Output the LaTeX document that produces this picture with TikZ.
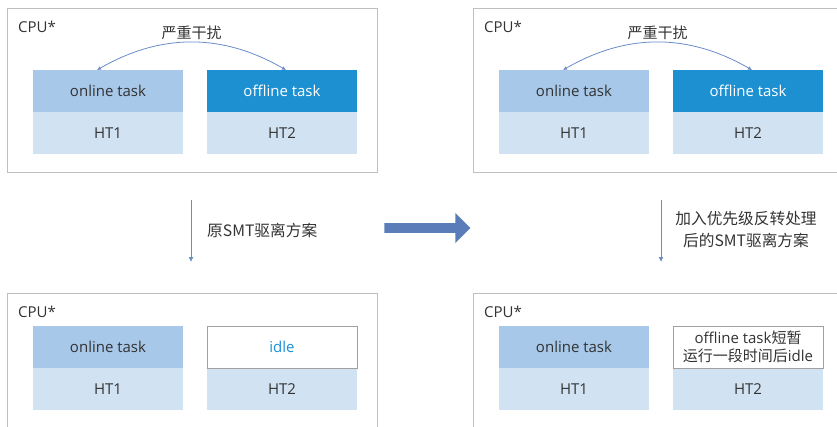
\documentclass[tikz,border=0pt]{standalone}
\usepackage{fontspec}
\setmainfont{Open Sans}
\newfontfamily\cjk{Noto Sans CJK SC}
\usetikzlibrary{positioning,arrows.meta,shapes.arrows}
\definecolor{onlineblue}{HTML}{A7C8E9}
\definecolor{htblue}{HTML}{D1E2F3}
\definecolor{offlineblue}{HTML}{1D90D2}
\definecolor{framegray}{HTML}{BFBFBF}
\definecolor{notegray}{HTML}{A0A0A0}
\definecolor{linkblue}{HTML}{6A8CC7}
\definecolor{bigblue}{HTML}{5A7DB9}
\definecolor{txtgray}{HTML}{333333}
\newcommand*{\boxw}{150pt}
\newcommand*{\boxh}{42pt}
\newcommand*{\txtsize}{\fontsize{15}{18}\selectfont}
\tikzset{
	panel/.style={
		draw=framegray,
		line width=1pt,
		minimum width=370pt,
		minimum height=164pt,
		inner sep=0pt,
		anchor=north west
	},
	cpulabel/.style={
		anchor=west,
		inner sep=0pt,
		text=txtgray,
		font=\txtsize
	},
	taskbox/.style n args={2}{
		fill=#1,
		text=#2,
		minimum width=\boxw,
		minimum height=\boxh,
		inner sep=0pt,
		outer sep=0pt,
		font=\txtsize
	},
	notebox/.style={
		draw=notegray,
		line width=0.8pt,
		fill=white,
		text=txtgray,
		minimum width=\boxw,
		minimum height=\boxh,
		inner sep=0pt,
		outer sep=0pt,
		align=center,
		font=\txtsize
	},
	linkarc/.style={
		draw=linkblue,
		line width=0.8pt,
		arrows={Latex[length=4pt,width=4pt]-Latex[length=4pt,width=4pt]}
	},
	droparrow/.style={
		draw=linkblue,
		line width=0.8pt,
		arrows={-Latex[length=5pt,width=5pt]}
	},
	midtext/.style={
		text=txtgray,
		inner sep=0pt,
		align=center,
		font=\cjk\fontsize{15.7}{22}\selectfont
	},
	bigarrow/.style={
		single arrow,
		fill=bigblue,
		draw=none,
		inner sep=0pt,
		text height=9.5pt,
		text depth=0pt,
		minimum height=86pt,
		minimum width=30pt,
		single arrow head extend=10pt,
		single arrow head indent=0pt
	}
}
\begin{document}
\begin{tikzpicture}[x=1pt,y=-1pt]
	\useasboundingbox (0,0) rectangle (837,426);
	\clip (0,0) rectangle (837,426);
	\foreach \p/\px/\py/\dy in {a/7/8/62, b/473/8/62, c/7/293/33, d/473/293/33} {
		\node (pn\p) [panel] at (\px,\py) {};
		\node (cpu\p) [cpulabel] at (\px+11,\py+19) {CPU*};
		\node (on\p) [taskbox={onlineblue}{txtgray}] at (\px+101,\py+\dy+21) {online task};
		\node (hta\p) [taskbox={htblue}{txtgray}, below=0pt of on\p] {HT1};
		\node (htb\p) [taskbox={htblue}{txtgray}, right=24pt of hta\p] {HT2};
	}
	\foreach \p in {a,b} {
		\node (off\p) [taskbox={offlineblue}{white}, above=0pt of htb\p] {offline task};
		\draw [linkarc] ([xshift=-11pt]on\p.north) to[bend left=30]
			node (clash\p) [above, midtext, inner sep=2pt, font=\cjk\fontsize{15}{18}\selectfont] {严重干扰} ([xshift=4pt]off\p.north);
	}
	\node (idlec) [notebox, text=offlineblue, above=0pt of htbc] {idle};
	\node (idled) [notebox, above=0pt of htbd] {offline task{\cjk 短暂}\\{\cjk 运行一段时间后}idle};
	\coordinate (dropa) at (191,200);
	\coordinate (dropb) at (191,262);
	\coordinate (dropc) at (661,200);
	\coordinate (dropd) at (661,262);
	\draw [droparrow] (dropa) -- (dropb);
	\draw [droparrow] (dropc) -- (dropd);
	\node (oldway) [midtext, anchor=west] at (207,230) {原SMT驱离方案};
	\node (newway) [midtext] at (746,230) {加入优先级反转处理\\后的SMT驱离方案};
	\node (shift) [bigarrow] at (425,228) {};
\end{tikzpicture}
\end{document}
